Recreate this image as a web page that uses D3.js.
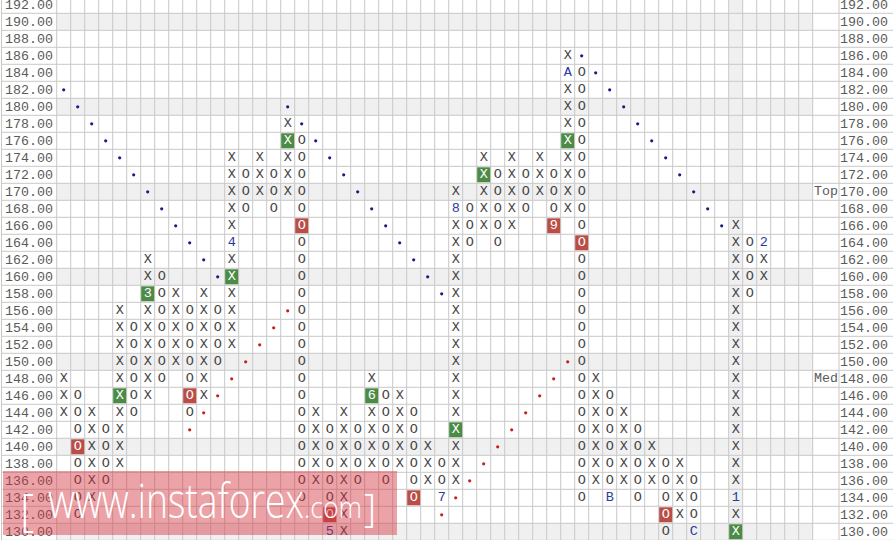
<!DOCTYPE html>
<html><head><meta charset="utf-8">
<script src="https://cdn.jsdelivr.net/npm/d3@7"></script>
<style>body{margin:0;background:#fff;} svg{display:block;}</style>
</head><body>
<svg id="c" width="893" height="540"></svg>
<script>
// ---- data ----
const priceLabels = [192,190,188,186,184,182,180,178,176,174,172,170,168,166,164,162,160,158,156,154,152,150,148,146,144,142,140,138,136,134,132,130];
const shadedPrices = [190,180,170,160,150,140,130];
const currentColumn = 48;

const colNo   = [0,1,2,3,4,5,6,7,8,9,10,11,12,13,14,15,16,17,18,19,20,21,22,23,24,25,26,27,28,29,30,31,32,33,34,35,36,37,38,39,40,41,42,43,44,45,48,49,50];
const colKind = ["X","O","X","O","X","O","X","O","X","O","X","O","X","O","X","O","X","O","X","O","X","O","X","O","X","O","X","O","X","O","X","O","X","O","X","O","X","O","X","O","X","O","X","O","X","O","X","O","X"];
const colLow  = [144,132,134,136,138,144,146,148,150,144,146,150,152,168,170,168,170,134,136,130,130,136,138,136,138,134,136,134,136,164,166,164,166,168,170,166,168,134,136,134,136,134,136,130,132,130,130,158,160];
const colHigh = [148,146,144,142,156,154,162,160,158,156,158,156,174,172,174,172,178,176,144,142,144,142,148,146,146,144,140,138,170,168,174,172,174,172,174,172,186,184,148,146,144,142,140,138,138,136,166,164,164];

// month markers (blue text)
const monthCol   = [12,19,27,28,36,39,45,48,50];
const monthPrice = [164,130,134,168,184,134,130,134,164];
const monthText  = ["4","5","7","8","A","B","C","1","2"];

// highlighted boxes
const greenCol   = [4,6,12,16,22,28,30,36,48];
const greenPrice = [146,158,160,176,146,142,172,176,130];
const greenText  = ["X","3","X","X","6","X","X","X","X"];
const redCol     = [1,9,17,19,25,35,37,43];
const redPrice   = [140,146,166,132,134,166,164,132];
const redText    = ["O","O","O","O","O","9","O","O"];

// trend line dots
const resist1Col = [0,1,2,3,4,5,6,7,8,9,10,11];
const resist1Pr  = [182,180,178,176,174,172,170,168,166,164,162,160];
const resist2Col = [16,17,18,19,20,21,22,23,24,25,26,27];
const resist2Pr  = [180,178,176,174,172,170,168,166,164,162,160,158];
const resist3Col = [37,38,39,40,41,42,43,44,45,46,47];
const resist3Pr  = [186,184,182,180,178,176,174,172,170,168,166];
const support1Col = [9,10,11,12,13,14,15,16];
const support1Pr  = [142,144,146,148,150,152,154,156];
const support2Col = [27,28,29,30,31,32,33,34,35,36];
const support2Pr  = [132,134,136,138,140,142,144,146,148,150];

const levelText  = ["Top","Med"];
const levelPrice = [170,148];

// ---- drawing ----
const svg = d3.select("#c");
const W = 893, H = 540;
const gridLeft = 56.7, gridRight = 812.7, nCols = 54, labelSep = 839;
const x = d3.scaleBand().domain(d3.range(nCols)).range([gridLeft, gridRight]);
const y = d3.scaleBand().domain(priceLabels).range([-3.7, 540.3]);
const bw = x.bandwidth(), bh = y.bandwidth();
const cx = c => x(c) + bw/2, cy = p => y(p) + bh/2;
const FONT = "'Courier New','Liberation Mono',monospace";

svg.append("rect").attr("width",W).attr("height",H).attr("fill","#fff");

// shaded rows and current column
svg.append("g").selectAll("rect").data(shadedPrices).join("rect")
  .attr("x", gridLeft).attr("width", gridRight-gridLeft)
  .attr("y", d=>y(d)).attr("height", bh).attr("fill","#f0f0f0");
svg.append("rect").attr("x", x(currentColumn)).attr("width", bw)
  .attr("y", -4).attr("height", H+8).attr("fill","#f0f0f0");

// grid
const grid = svg.append("g").attr("stroke","#c8c8c8").attr("stroke-width",1);
grid.selectAll("line.h").data(priceLabels.concat(["end"])).join("line")
  .attr("x1",1.5).attr("x2",W)
  .attr("y1",d=> d==="end" ? y(130)+bh : y(d)).attr("y2",d=> d==="end" ? y(130)+bh : y(d));
const vlines = d3.range(nCols).map(i=>x(i)).concat([gridRight, labelSep, 1.5]);
grid.selectAll("line.v").data(vlines).join("line")
  .attr("x1",d=>d).attr("x2",d=>d).attr("y1",-4).attr("y2",H);

// axes labels
const axL = svg.append("g").attr("transform","translate(53,0)")
  .call(d3.axisLeft(y).tickSize(0).tickPadding(0).tickFormat(d3.format(".2f")));
const axR = svg.append("g").attr("transform","translate(840,0)")
  .call(d3.axisRight(y).tickSize(0).tickPadding(0).tickFormat(d3.format(".2f")));
[axL, axR].forEach(g=>{
  g.select(".domain").remove();
  g.attr("font-family", FONT).attr("font-size", 13.3);
  g.selectAll("text").attr("fill","#5a5a5a");
});

// level labels
svg.append("g").selectAll("text").data(levelText).join("text")
  .attr("x", labelSep-1).attr("y",(d,i)=>cy(levelPrice[i]))
  .attr("text-anchor","end").attr("dominant-baseline","central")
  .attr("font-family",FONT).attr("font-size",13.3).attr("fill","#5a5a5a").text(d=>d);

// boxes
function boxes(cols, prices, color){
  svg.append("g").selectAll("rect").data(cols).join("rect")
    .attr("x",(d)=>x(d)+0.5).attr("y",(d,i)=>y(prices[i])+1)
    .attr("width",bw-1).attr("height",bh-2).attr("fill",color);
}
boxes(greenCol, greenPrice, "#4b8b46");
boxes(redCol, redPrice, "#bb4d47");

// cell symbols
const special = new Set();
monthCol.forEach((c,i)=>special.add(c+"_"+monthPrice[i]));
greenCol.forEach((c,i)=>special.add(c+"_"+greenPrice[i]));
redCol.forEach((c,i)=>special.add(c+"_"+redPrice[i]));
const cells = [];
colNo.forEach((c,i)=>{
  for(let p=colLow[i]; p<=colHigh[i]; p+=2){
    if(!special.has(c+"_"+p)) cells.push({c, p, t: colKind[i]});
  }
});
const symG = svg.append("g").attr("font-family",FONT).attr("font-size",13.5)
  .attr("text-anchor","middle").attr("dominant-baseline","central");
symG.selectAll("text.s").data(cells).join("text")
  .attr("x",d=>cx(d.c)).attr("y",d=>cy(d.p)).attr("fill","#444").text(d=>d.t);
symG.selectAll("text.m").data(monthCol).join("text")
  .attr("x",d=>cx(d)).attr("y",(d,i)=>cy(monthPrice[i])).attr("fill","#2c3a9c").text((d,i)=>monthText[i]);
symG.selectAll("text.g").data(greenCol).join("text")
  .attr("x",d=>cx(d)).attr("y",(d,i)=>cy(greenPrice[i])).attr("fill","#fff").text((d,i)=>greenText[i]);
symG.selectAll("text.r").data(redCol).join("text")
  .attr("x",d=>cx(d)).attr("y",(d,i)=>cy(redPrice[i])).attr("fill","#fff").text((d,i)=>redText[i]);

// trend dots
function dots(cols, prices, color){
  svg.append("g").selectAll("circle").data(cols).join("circle")
    .attr("cx",d=>cx(d)).attr("cy",(d,i)=>cy(prices[i])).attr("r",1.6).attr("fill",color);
}
dots(resist1Col, resist1Pr, "#1c1c86");
dots(resist2Col, resist2Pr, "#1c1c86");
dots(resist3Col, resist3Pr, "#1c1c86");
dots(support1Col, support1Pr, "#c81e1e");
dots(support2Col, support2Pr, "#c81e1e");

// watermark
const wm = svg.append("g");
wm.append("rect").attr("x",3).attr("y",471).attr("width",394).attr("height",64)
  .attr("fill","rgba(212,52,62,0.45)");
const wmText = wm.append("g").attr("fill","#fff").attr("font-family","'Open Sans','Noto Sans',sans-serif").attr("font-weight",300);
wmText.append("text").attr("x",20).attr("y",526).attr("font-size",44).text("[");
wmText.append("text").attr("x",48).attr("y",518).attr("font-size",48)
  .attr("textLength",256).attr("lengthAdjust","spacingAndGlyphs").text("www.instaforex");
wmText.append("text").attr("x",304).attr("y",518).attr("font-size",30)
  .attr("textLength",58).attr("lengthAdjust","spacingAndGlyphs").text(".com");
wmText.append("text").attr("x",364).attr("y",522).attr("font-size",38).text("]");
</script>
</body></html>
